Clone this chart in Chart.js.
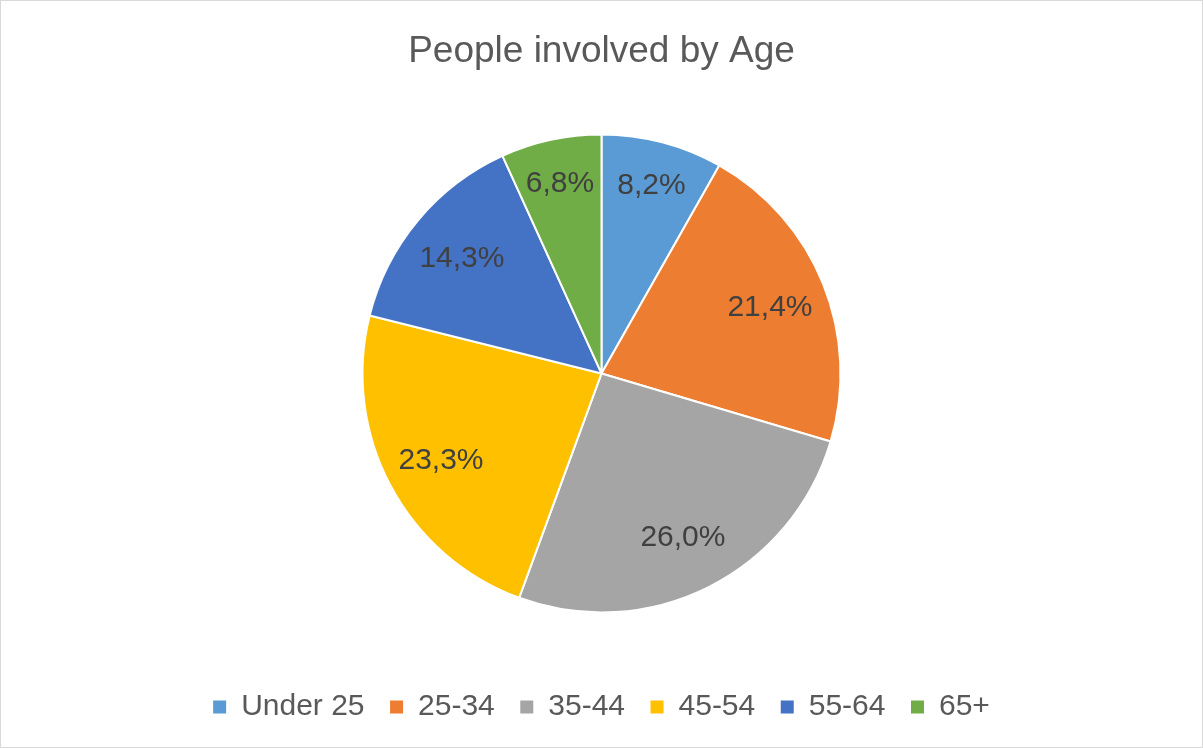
<!DOCTYPE html>
<html>
<head>
<meta charset="utf-8">
<script src="https://cdn.jsdelivr.net/npm/chart.js@4.4.1/dist/chart.umd.min.js"></script>
<style>
  html, body { margin: 0; padding: 0; background: #ffffff; }
  canvas { display: block; }
</style>
</head>
<body>
<canvas id="c" width="1203" height="748"></canvas>
<script>
const categories = ['Under 25', '25-34', '35-44', '45-54', '55-64', '65+'];
const percentages = [8.2, 21.4, 26.0, 23.3, 14.3, 6.8];
const sliceColors = ['#5B9BD5', '#ED7D31', '#A5A5A5', '#FFC000', '#4472C4', '#70AD47'];
const chartTitle = 'People involved by Age';

const FONT = "'Liberation Sans', Arial, sans-serif";

const frame = {
  id: 'frame',
  beforeDraw(chart) {
    const ctx = chart.ctx;
    ctx.save();
    ctx.fillStyle = '#ffffff';
    ctx.fillRect(0, 0, chart.width, chart.height);
    ctx.restore();
  },
  afterDraw(chart) {
    const ctx = chart.ctx;
    ctx.save();
    ctx.strokeStyle = '#D9D9D9';
    ctx.lineWidth = 1;
    ctx.strokeRect(0.5, 0.5, chart.width - 1, chart.height - 1);
    ctx.restore();
  }
};

const sliceLabels = {
  id: 'sliceLabels',
  afterDatasetsDraw(chart) {
    const ctx = chart.ctx;
    const meta = chart.getDatasetMeta(0);
    const data = chart.data.datasets[0].data;
    ctx.save();
    ctx.font = '30px ' + FONT;
    ctx.fillStyle = '#404040';
    ctx.textAlign = 'center';
    ctx.textBaseline = 'middle';
    meta.data.forEach((arc, i) => {
      const p = arc.getProps(['x', 'y', 'startAngle', 'endAngle', 'outerRadius'], true);
      const mid = (p.startAngle + p.endAngle) / 2;
      const f = data[i] < 10 ? 0.82 : 0.76;
      const r = p.outerRadius * f;
      const tx = p.x + Math.cos(mid) * r;
      const ty = p.y + Math.sin(mid) * r + 2;
      ctx.fillText(data[i].toFixed(1).replace('.', ',') + '%', tx, ty);
    });
    ctx.restore();
  }
};

new Chart(document.getElementById('c'), {
  type: 'pie',
  data: {
    labels: categories,
    datasets: [{
      data: percentages,
      backgroundColor: sliceColors,
      borderColor: '#ffffff',
      borderWidth: 2,
      hoverOffset: 0
    }]
  },
  options: {
    responsive: false,
    devicePixelRatio: 1,
    animation: false,
    radius: 239,
    layout: { padding: { top: 0, bottom: 16, left: 0, right: 0 } },
    plugins: {
      title: {
        display: true,
        text: chartTitle,
        color: '#595959',
        font: { family: FONT, size: 37, weight: 'normal' },
        padding: { top: 30, bottom: 6 }
      },
      legend: {
        position: 'bottom',
        labels: {
          color: '#595959',
          font: { family: FONT, size: 30 },
          boxWidth: 13,
          boxHeight: 13,
          padding: 25.5,
          generateLabels(chart) {
            const items = Chart.overrides.pie.plugins.legend.labels.generateLabels(chart);
            items.forEach(it => { it.lineWidth = 0; it.strokeStyle = it.fillStyle; });
            return items;
          }
        }
      },
      tooltip: { enabled: false }
    }
  },
  plugins: [frame, sliceLabels]
});
</script>
</body>
</html>
